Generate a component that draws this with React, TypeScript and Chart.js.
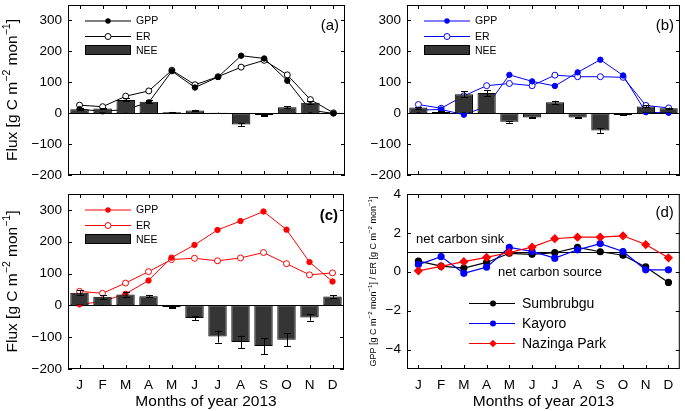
import React, { useEffect, useRef } from 'react';
import { Chart, registerables } from 'chart.js';

Chart.register(...registerables);

// ---------------- data ----------------
const months = ['J', 'F', 'M', 'A', 'M', 'J', 'J', 'A', 'S', 'O', 'N', 'D'];
const fluxTicks = [-200, -100, 0, 100, 200, 300];
const ratioTicks = [-4, -2, 0, 2, 4];

// (a) Sumbrubgu
const gppA = [13, 6, 12, 35, 136, 83, 117, 186, 177, 105, 10, -1];
const erA = [26, 21, 55, 72, 139, 92, 118, 149, 171, 124, 44, 1];
const neeA = [13, 15, 43, 37, 3, 9, 1, -37, -7, 19, 34, 1];
const errA = [3, 2, 5, 5, 1, 2, 1, 5, 2, 3, 4, 1];

// (b) Kayoro
const gppB = [10, 12, -5, 22, 124, 103, 88, 132, 173, 122, 3, 1];
const erB = [28, 16, 56, 89, 96, 89, 123, 118, 118, 116, 25, 17];
const neeB = [18, 4, 61, 65, -28, -14, 35, -14, -56, -6, 22, 16];
const errB = [3, 2, 10, 10, 3, 3, 5, 3, 8, 1, 3, 2];

// (c) Nazinga Park
const gppC = [3, 12, 36, 78, 150, 190, 237, 265, 295, 238, 136, 75];
const erC = [44, 38, 70, 106, 144, 148, 140, 149, 166, 131, 96, 102];
const neeC = [40, 27, 34, 29, -6, -40, -98, -115, -128, -108, -38, 28];
const errC = [8, 6, 7, 4, 2, 6, 19, 20, 25, 20, 10, 4];

// (d) GPP / ER ratio
const ratioSumbrubgu = [0.55, 0.29, 0.19, 0.48, 0.95, 0.9, 0.98, 1.25, 1.03, 0.85, 0.25, -0.55];
const ratioKayoro = [0.37, 0.78, -0.08, 0.24, 1.25, 1.05, 0.7, 1.13, 1.45, 1.04, 0.1, 0.1];
const ratioNazinga = [0.05, 0.28, 0.52, 0.74, 0.99, 1.27, 1.7, 1.78, 1.78, 1.85, 1.4, 0.72];

// ---------------- layout / style ----------------
const W = 685;
const H = 411;
const FONT = "'Liberation Sans', Arial, Helvetica, sans-serif";
const Y_AXIS_W = 40;
const X_AXIS_H = 30;
const TICK_LEN = 4;
const BAR_FILL = '#353535';

type Area = { l: number; t: number; r: number; b: number };
type Seg = { t: string; sup?: boolean };

const fluxTitle: Seg[] = [
  { t: 'Flux [g C m' }, { t: '\u22122', sup: true }, { t: ' mon' }, { t: '\u22121', sup: true }, { t: ']' },
];
const ratioTitle: Seg[] = [
  { t: 'GPP [g C m' }, { t: '\u22122', sup: true }, { t: ' mon' }, { t: '\u22121', sup: true },
  { t: '] / ER [g C m' }, { t: '\u22122', sup: true }, { t: ' mon' }, { t: '\u22121', sup: true }, { t: ']' },
];

function fmtTick(v: number) {
  return v < 0 ? '\u2212' + Math.abs(v) : String(v);
}

function drawRichRot(ctx: CanvasRenderingContext2D, segs: Seg[], size: number, baselineX: number, cy: number) {
  ctx.save();
  ctx.translate(baselineX, cy);
  ctx.rotate(-Math.PI / 2);
  let w = 0;
  for (const s of segs) {
    ctx.font = `${s.sup ? size * 0.68 : size}px ${FONT}`;
    w += ctx.measureText(s.t).width;
  }
  let x = -w / 2;
  ctx.textAlign = 'left';
  ctx.textBaseline = 'alphabetic';
  ctx.fillStyle = '#000';
  for (const s of segs) {
    ctx.font = `${s.sup ? size * 0.68 : size}px ${FONT}`;
    ctx.fillText(s.t, x, s.sup ? -size * 0.45 : 0);
    x += ctx.measureText(s.t).width;
  }
  ctx.restore();
}

type PanelCfg = {
  kind: 'flux' | 'ratio';
  area: Area;
  color?: string;
  gpp?: number[];
  er?: number[];
  nee?: number[];
  err?: number[];
  label: string;
  labelBold: boolean;
  labelDy: number;
  showX: boolean;
};

const panels: PanelCfg[] = [
  { kind: 'flux', area: { l: 68, t: 1, r: 345, b: 175 }, color: '#000000', gpp: gppA, er: erA, nee: neeA, err: errA, label: '(a)', labelBold: false, labelDy: 21, showX: false },
  { kind: 'flux', area: { l: 407, t: 1, r: 684, b: 175 }, color: '#0000ff', gpp: gppB, er: erB, nee: neeB, err: errB, label: '(b)', labelBold: false, labelDy: 21, showX: false },
  { kind: 'flux', area: { l: 68, t: 194, r: 344, b: 369 }, color: '#ff0000', gpp: gppC, er: erC, nee: neeC, err: errC, label: '(c)', labelBold: true, labelDy: 22, showX: true },
  { kind: 'ratio', area: { l: 407, t: 194, r: 684, b: 369 }, label: '(d)', labelBold: false, labelDy: 19, showX: true },
];

function buildConfig(p: PanelCfg): any {
  const { area } = p;
  const flux = p.kind === 'flux';
  const yTicks = flux ? fluxTicks : ratioTicks;
  const yMin = flux ? -200 : -5;
  const yMax = flux ? 350 : 4;
  const refValue = flux ? 0 : 1;

  let datasets: any[];
  if (flux) {
    const c = p.color!;
    datasets = [
      { type: 'line', label: 'GPP', data: p.gpp, borderColor: c, backgroundColor: c, borderWidth: 1, tension: 0,
        pointRadius: 2.7, pointBackgroundColor: c, pointBorderColor: c, pointBorderWidth: 1, order: 2 },
      { type: 'line', label: 'ER', data: p.er, borderColor: c, backgroundColor: '#ffffff', borderWidth: 1, tension: 0,
        pointRadius: 3, pointBackgroundColor: '#ffffff', pointBorderColor: c, pointBorderWidth: 1, order: 2 },
      { type: 'bar', label: 'NEE', data: p.nee, backgroundColor: BAR_FILL, borderColor: '#000000', borderWidth: 1,
        borderSkipped: false, categoryPercentage: 0.8, barPercentage: 1, order: 1 },
    ];
  } else {
    datasets = [
      { type: 'line', label: 'Sumbrubgu', data: ratioSumbrubgu, borderColor: '#000000', backgroundColor: '#000000', borderWidth: 1.2,
        tension: 0, pointRadius: 3, pointBackgroundColor: '#000000', pointBorderColor: '#000000', order: 3 },
      { type: 'line', label: 'Kayoro', data: ratioKayoro, borderColor: '#0000ff', backgroundColor: '#0000ff', borderWidth: 1.2,
        tension: 0, pointRadius: 3, pointBackgroundColor: '#0000ff', pointBorderColor: '#0000ff', order: 2 },
      { type: 'line', label: 'Nazinga Park', data: ratioNazinga, borderColor: '#ff0000', backgroundColor: '#ff0000', borderWidth: 1.2,
        tension: 0, pointRadius: 3.8, pointStyle: 'rectRot', pointBackgroundColor: '#ff0000', pointBorderColor: '#ff0000', order: 1 },
    ];
  }

  const decor = {
    id: 'decor',
    beforeDatasetsDraw(chart: any) {
      const ctx = chart.ctx as CanvasRenderingContext2D;
      const ys = chart.scales.y;
      const py = Math.round(ys.getPixelForValue(refValue)) + 0.5;
      ctx.save();
      ctx.strokeStyle = '#000';
      ctx.lineWidth = 1;
      ctx.beginPath();
      ctx.moveTo(chart.chartArea.left, py);
      ctx.lineTo(chart.chartArea.right, py);
      ctx.stroke();
      ctx.restore();
    },
    afterDatasetsDraw(chart: any) {
      const ctx = chart.ctx as CanvasRenderingContext2D;
      const xs = chart.scales.x;
      const ys = chart.scales.y;
      const { left: l, right: r, top: t, bottom: b } = chart.chartArea;
      ctx.save();
      ctx.strokeStyle = '#000';
      ctx.fillStyle = '#000';
      ctx.lineWidth = 1;

      // error bars
      if (flux && p.nee && p.err) {
        ctx.beginPath();
        for (let i = 0; i < p.nee.length; i++) {
          const px = Math.round(xs.getPixelForValue(i)) + 0.5;
          const y1 = ys.getPixelForValue(p.nee[i] + p.err[i]);
          const y2 = ys.getPixelForValue(p.nee[i] - p.err[i]);
          ctx.moveTo(px, y1); ctx.lineTo(px, y2);
          ctx.moveTo(px - 3.5, Math.round(y1) + 0.5); ctx.lineTo(px + 3.5, Math.round(y1) + 0.5);
          ctx.moveTo(px - 3.5, Math.round(y2) + 0.5); ctx.lineTo(px + 3.5, Math.round(y2) + 0.5);
        }
        ctx.stroke();
      }

      // frame
      ctx.strokeRect(l + 0.5, t + 0.5, r - l - 1, b - t - 1);
      // inward ticks
      ctx.beginPath();
      for (let i = 0; i < months.length; i++) {
        const px = Math.round(xs.getPixelForValue(i)) + 0.5;
        ctx.moveTo(px, b); ctx.lineTo(px, b - TICK_LEN);
        ctx.moveTo(px, t); ctx.lineTo(px, t + TICK_LEN);
      }
      for (const v of yTicks) {
        const py = Math.round(ys.getPixelForValue(v)) + 0.5;
        ctx.moveTo(l, py); ctx.lineTo(l + TICK_LEN, py);
        ctx.moveTo(r, py); ctx.lineTo(r - TICK_LEN, py);
      }
      ctx.stroke();

      // legend
      if (flux) {
        const c = p.color!;
        const x0 = l + 17, x1 = l + 63, mx = l + 40, tx = l + 68;
        const rows = [t + 15.5, t + 31, t + 45];
        ctx.font = `10.5px ${FONT}`;
        ctx.textAlign = 'left';
        ctx.textBaseline = 'middle';
        // GPP
        ctx.strokeStyle = c; ctx.fillStyle = c;
        ctx.beginPath(); ctx.moveTo(x0, rows[0] + 0.5); ctx.lineTo(x1, rows[0] + 0.5); ctx.stroke();
        ctx.beginPath(); ctx.arc(mx, rows[0] + 0.5, 2.7, 0, Math.PI * 2); ctx.fill();
        // ER
        ctx.beginPath(); ctx.moveTo(x0, rows[1] + 0.5); ctx.lineTo(x1, rows[1] + 0.5); ctx.stroke();
        ctx.beginPath(); ctx.arc(mx, rows[1] + 0.5, 3, 0, Math.PI * 2);
        ctx.fillStyle = '#fff'; ctx.fill(); ctx.stroke();
        // NEE
        ctx.fillStyle = BAR_FILL; ctx.strokeStyle = '#000';
        ctx.fillRect(x0, rows[2] - 5, x1 - x0, 10);
        ctx.strokeRect(x0 + 0.5, rows[2] - 4.5, x1 - x0 - 1, 9);
        ctx.fillStyle = '#000';
        ctx.fillText('GPP', tx, rows[0] + 1);
        ctx.fillText('ER', tx, rows[1] + 1);
        ctx.fillText('NEE', tx, rows[2] + 1);
      } else {
        const x0 = l + 62, x1 = l + 108, mx = l + 86, tx = l + 115;
        const rows = [t + 109, t + 129, t + 149];
        ctx.font = `14px ${FONT}`;
        ctx.textAlign = 'left';
        ctx.textBaseline = 'middle';
        datasets.forEach((ds, i) => {
          const y = rows[i] + 0.5;
          ctx.strokeStyle = ds.borderColor; ctx.fillStyle = ds.borderColor; ctx.lineWidth = 1.2;
          ctx.beginPath(); ctx.moveTo(x0, y); ctx.lineTo(x1, y); ctx.stroke();
          ctx.beginPath();
          if (ds.pointStyle === 'rectRot') {
            const s = 3.8;
            ctx.moveTo(mx, y - s); ctx.lineTo(mx + s, y); ctx.lineTo(mx, y + s); ctx.lineTo(mx - s, y); ctx.closePath();
          } else {
            ctx.arc(mx, y, 3, 0, Math.PI * 2);
          }
          ctx.fill();
          ctx.fillStyle = '#000';
          ctx.fillText(ds.label, tx, y + 1);
        });
        // annotations
        ctx.font = `13px ${FONT}`;
        ctx.fillStyle = '#000';
        ctx.fillText('net carbon sink', l + 9, 239.5);
        ctx.fillText('net carbon source', l + 91, 272);
      }

      // panel label
      ctx.fillStyle = '#000';
      ctx.font = `${p.labelBold ? 'bold ' : ''}15px ${FONT}`;
      ctx.textAlign = 'right';
      ctx.textBaseline = 'middle';
      ctx.fillText(p.label, r - 6, t + p.labelDy);

      // y title
      const cy = (t + b) / 2;
      if (flux) {
        if (l < 200) drawRichRot(ctx, fluxTitle, 15.5, 17, cy);
      } else {
        drawRichRot(ctx, ratioTitle, 9, 376, cy);
      }

      // x title
      if (p.showX) {
        ctx.font = `15.5px ${FONT}`;
        ctx.textAlign = 'center';
        ctx.textBaseline = 'middle';
        ctx.fillStyle = '#000';
        ctx.fillText('Months of year 2013', (l + r) / 2, 402);
      }
      ctx.restore();
    },
  };

  const zeroPad = (s: any) => {
    s.paddingLeft = 0; s.paddingRight = 0; s.paddingTop = 0; s.paddingBottom = 0;
  };

  return {
    type: 'bar',
    data: { labels: months, datasets },
    options: {
      responsive: false,
      animation: false,
      devicePixelRatio: 1,
      events: [],
      layout: {
        padding: {
          left: area.l - Y_AXIS_W,
          right: W - area.r,
          top: area.t,
          bottom: H - area.b - X_AXIS_H,
        },
      },
      plugins: { legend: { display: false }, tooltip: { enabled: false } },
      scales: {
        x: {
          type: 'category',
          offset: true,
          grid: { display: false, drawTicks: false },
          border: { display: false },
          ticks: {
            display: p.showX,
            autoSkip: false,
            maxRotation: 0,
            padding: 8,
            color: '#000',
            font: { family: FONT, size: 13.5 },
          },
          afterFit: (s: any) => { s.height = X_AXIS_H; zeroPad(s); },
        },
        y: {
          type: 'linear',
          min: yMin,
          max: yMax,
          afterBuildTicks: (s: any) => { s.ticks = yTicks.map((v) => ({ value: v })); },
          grid: { display: false, drawTicks: false },
          border: { display: false },
          ticks: {
            padding: 6,
            color: '#000',
            font: { family: FONT, size: 13.5 },
            callback: (v: any) => fmtTick(Number(v)),
          },
          afterFit: (s: any) => { s.width = Y_AXIS_W; zeroPad(s); },
        },
      },
    },
    plugins: [decor],
  };
}

function Panel({ cfg }: { cfg: PanelCfg }) {
  const ref = useRef<HTMLCanvasElement>(null);
  useEffect(() => {
    if (!ref.current) return;
    const chart = new Chart(ref.current, buildConfig(cfg));
    return () => chart.destroy();
  }, [cfg]);
  return (
    <canvas
      ref={ref}
      width={W}
      height={H}
      style={{ position: 'absolute', left: 0, top: 0, width: W, height: H }}
    />
  );
}

export default function App() {
  return (
    <div style={{ position: 'absolute', left: 0, top: 0, width: W, height: H, background: '#ffffff', overflow: 'hidden' }}>
      {panels.map((p) => (
        <Panel key={p.label} cfg={p} />
      ))}
    </div>
  );
}
